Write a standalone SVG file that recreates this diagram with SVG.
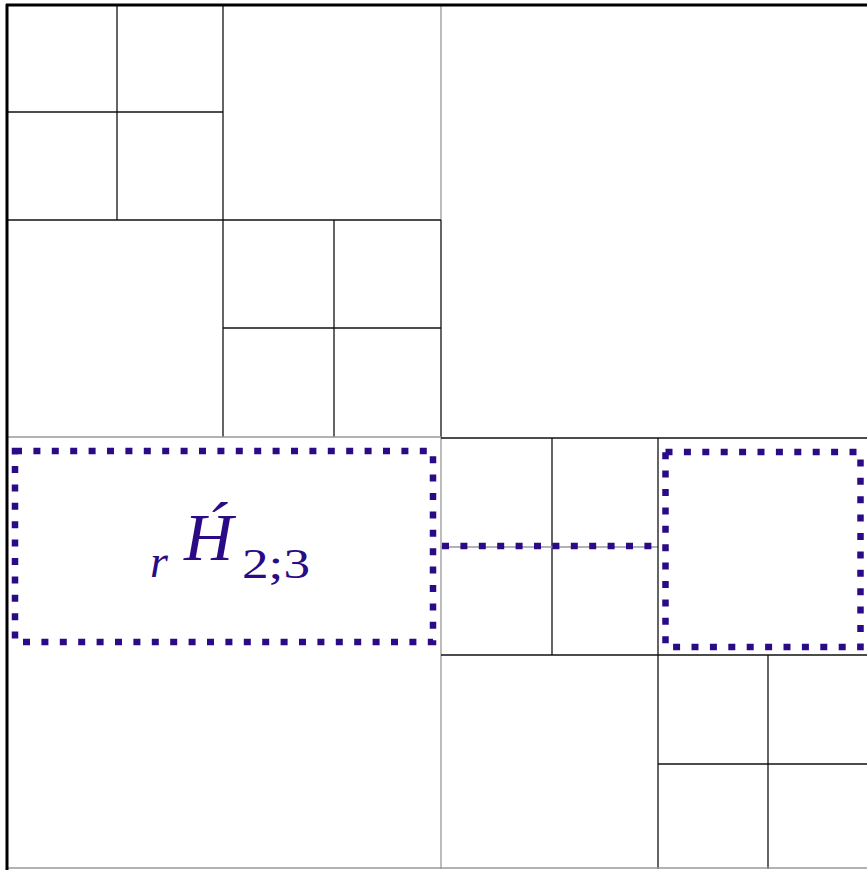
<svg xmlns="http://www.w3.org/2000/svg" width="867" height="870" viewBox="0 0 867 870">
<style>
.g{stroke:#111;stroke-width:1.3;fill:none}
.lg{stroke:#999;stroke-width:1.3;fill:none}
.fr{stroke:#000;stroke-width:3;fill:none}
.dot{stroke:#2a0a85;stroke-width:6.5;fill:none;stroke-dasharray:7 11.4}
.t{fill:#2a0a85;font-family:"Liberation Serif","DejaVu Serif",serif;font-style:italic}
.s{fill:#2a0a85;font-family:"Liberation Serif","DejaVu Serif",serif}
</style>
<rect width="867" height="870" fill="#fff"/>
<g id="grid">
<line class="lg" x1="441" y1="5" x2="441" y2="220"/>
<line class="g" x1="441" y1="220" x2="441" y2="437"/>
<line class="lg" x1="441" y1="437" x2="441" y2="869"/>
<line class="g" x1="117" y1="5" x2="117" y2="220"/>
<line class="g" x1="7" y1="112" x2="223" y2="112"/>
<line class="g" x1="223" y1="5" x2="223" y2="437"/>
<line class="g" x1="7" y1="220" x2="441" y2="220"/>
<line class="g" x1="334" y1="220" x2="334" y2="437"/>
<line class="g" x1="223" y1="328" x2="441" y2="328"/>
<line class="lg" x1="7" y1="437" x2="441" y2="437"/>
<line class="g" x1="441" y1="438" x2="867" y2="438"/>
<line class="g" x1="552" y1="438" x2="552" y2="655"/>
<line class="lg" x1="441" y1="547" x2="658" y2="547"/>
<line class="g" x1="658" y1="438" x2="658" y2="869"/>
<line class="g" x1="441" y1="655" x2="867" y2="655"/>
<line class="g" x1="768" y1="655" x2="768" y2="869"/>
<line class="g" x1="658" y1="764" x2="867" y2="764"/>
<line class="lg" x1="7" y1="868" x2="867" y2="868"/>
</g>
<g id="frame">
<line class="fr" x1="7" y1="4" x2="7" y2="870"/>
<line class="fr" x1="6" y1="5" x2="867" y2="5"/>
</g>
<g id="blocks">
<rect id="left-block" class="dot" x="15" y="451" width="418" height="191"/>
<rect id="right-block" class="dot" x="665.5" y="452" width="195" height="195"/>
<line id="mid-line" class="dot" x1="442" y1="546" x2="661" y2="546"/>
</g>
<g id="label">
<text class="t" x="150" y="577" font-size="46">r</text>
<text class="t" x="184" y="560" font-size="68">H&#x301;</text>
<text class="s" x="242" y="578" font-size="42" textLength="68" lengthAdjust="spacingAndGlyphs">2;3</text>
</g>
</svg>
